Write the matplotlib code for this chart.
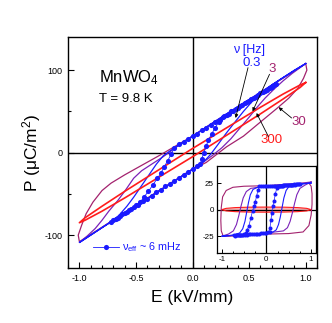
import matplotlib
matplotlib.use('Agg')
import matplotlib.pyplot as plt
from matplotlib.ticker import MultipleLocator, FixedLocator, FixedFormatter

plt.rcParams['font.family'] = ['Liberation Sans', 'DejaVu Sans']
plt.rcParams['mathtext.fontset'] = 'custom'
plt.rcParams['mathtext.rm'] = 'Liberation Sans'
plt.rcParams['mathtext.it'] = 'Liberation Sans:italic'
plt.rcParams['mathtext.default'] = 'regular'
plt.rcParams['axes.unicode_minus'] = False

BLUE = '#1a1aff'
VIOLET = '#7b22b8'
MAROON = '#a3226e'
RED = '#ff1c1c'

# ---- main panel: P(E) loops, E in kV/mm, P in uC/m^2 ----
E_03 = [1.0, 0.8, 0.6, 0.4, 0.2, 0.0, -0.1, -0.2, -0.26, -0.32, -0.38, -0.45, -0.52, -0.58, -0.65,
        -0.72, -0.8, -0.9, -1.0, -0.8, -0.6, -0.4, -0.2, 0.0, 0.1, 0.16, 0.22, 0.3, 0.38, 0.45,
        0.52, 0.6, 0.7, 0.8, 0.9, 1.0]
P_03 = [108, 91, 73, 56, 38, 20, 11, 2, -4, -14, -26, -40, -54, -65, -76,
        -84, -91, -100, -109, -91, -73, -56, -38, -20, -11, -2, 9, 24, 38, 50,
        61, 71, 82, 91, 100, 108]

E_3 = [1.0, 0.6, 0.2, 0.0, -0.1, -0.18, -0.26, -0.35, -0.45, -0.52, -0.59, -0.66, -0.74, -0.8,
       -0.86, -0.93, -1.0, -0.6, -0.2, 0.0, 0.1, 0.18, 0.26, 0.34, 0.42, 0.5, 0.57, 0.64, 0.72,
       0.8, 0.88, 0.95, 1.0]
P_3 = [108, 73, 38, 20, 11, 3, -5, -13, -22, -31, -45, -58, -71, -82,
       -92, -101, -109, -73, -38, -20, -11, -3, 6, 17, 30, 43, 55, 66, 77,
       87, 96, 103, 108]

E_30 = [1.0, 0.75, 0.5, 0.25, 0.0, -0.15, -0.3, -0.47, -0.6, -0.72, -0.8, -0.88, -0.94, -0.98,
        -1.01, -1.0, -0.75, -0.5, -0.25, 0.0, 0.12, 0.3, 0.45, 0.59, 0.74, 0.85, 0.93, 0.98,
        1.01, 1.0]
P_30 = [108, 86, 64, 42, 20, 8, -4, -17, -27, -37, -46, -60, -74, -88,
        -100, -108, -86, -64, -42, -20, -12, 7, 20, 36, 53, 66, 78, 90,
        100, 108]

E_300 = [1.0, 0.95, 0.8, 0.6, 0.3, 0.0, -0.3, -0.6, -0.8, -0.95, -1.0,
         -0.95, -0.8, -0.6, -0.3, 0.0, 0.3, 0.6, 0.8, 0.95, 1.0]
P_300 = [85, 82, 71, 55, 30, 5, -21, -47, -65, -79, -85,
         -82, -71, -55, -30, -5, 21, 47, 65, 79, 85]

# quasi-static points (nu_eff ~ 6 mHz), in measuring order
E_qs = [-0.72, -0.68, -0.64, -0.60, -0.56, -0.52, -0.48, -0.44, -0.40, -0.36, -0.32, -0.28,
        -0.24, -0.20, -0.16, -0.12, -0.08, -0.04, 0.0, 0.04, 0.07,
        0.08, 0.10, 0.12, 0.14, 0.17, 0.20, 0.23, 0.27,
        0.30, 0.34, 0.38, 0.42, 0.46, 0.50, 0.54, 0.58, 0.62, 0.66, 0.70, 0.74,
        0.72, 0.68, 0.64, 0.60, 0.56, 0.52, 0.48, 0.44, 0.40, 0.36, 0.32, 0.28, 0.24, 0.20,
        0.16, 0.12, 0.08, 0.04, 0.0, -0.04, -0.08, -0.12, -0.16,
        -0.19, -0.22, -0.25, -0.28, -0.31, -0.35, -0.39, -0.43, -0.46,
        -0.50, -0.54, -0.58, -0.62, -0.66, -0.70]
P_qs = [-84, -80, -77, -73, -70, -66, -63, -59, -56, -52, -48, -45,
        -41, -38, -34, -31, -27, -24, -20, -16, -14,
        -8, 0, 8, 15, 23, 30, 37, 43,
        46, 50, 53, 56, 60, 63, 66, 70, 73, 76, 80, 83,
        82, 78, 75, 72, 68, 65, 61, 58, 54, 51, 47, 44, 40, 37,
        34, 30, 27, 23, 20, 16, 13, 10, 6,
        -2, -10, -17, -25, -31, -39, -47, -54, -60,
        -64, -68, -72, -75, -79, -82]

# ---- inset: loops after background subtraction ----
E_03i = [1.0, 0.7, 0.3, 0.0, -0.2, -0.3, -0.36, -0.4, -0.44, -0.48, -0.53, -0.6, -0.75, -1.0,
         -0.7, -0.3, 0.0, 0.15, 0.22, 0.27, 0.31, 0.35, 0.39, 0.44, 0.5, 0.65, 1.0]
P_03i = [25, 24, 23, 22, 21, 19, 14, 7, -2, -11, -18, -22, -24, -25,
         -24, -23, -22, -21, -19, -14, -7, 2, 11, 18, 21.5, 23.5, 25]

E_3i = [1.0, 0.6, 0.0, -0.35, -0.45, -0.52, -0.57, -0.62, -0.67, -0.74, -0.85, -1.0,
        -0.6, 0.0, 0.38, 0.47, 0.53, 0.58, 0.63, 0.68, 0.75, 0.86, 1.0]
P_3i = [26, 24, 22, 20, 17, 11, 3, -6, -14, -20, -23, -25,
        -24, -22, -20, -17, -11, -3, 6, 14, 20, 23, 26]

E_30i = [0.95, 0.5, 0.0, -0.5, -0.75, -0.9, -0.98, -1.01, -1.02, -1.01, -0.97, -0.85,
         -0.5, 0.0, 0.5, 0.82, 0.95, 1.0, 1.02, 1.02, 1.0, 0.95]
P_30i = [25, 24, 22.5, 22, 21, 18, 12, 2, -10, -20, -24.5, -25,
         -24, -23, -22.5, -21, -15, -5, 5, 15, 22, 25]

E_300i = [1.0, 0.9, 0.7, 0.4, 0.0, -0.4, -0.7, -0.9, -1.0, -0.9, -0.7, -0.4, 0.0, 0.4, 0.7, 0.9, 1.0]
P_300i = [0, 1.2, 1.9, 2.3, 2.4, 2.3, 1.9, 1.2, 0, -1.2, -1.9, -2.3, -2.4, -2.3, -1.9, -1.2, 0]

P_qsi = [-24, -24, -24, -24, -24, -23.5, -23.5, -23.5, -23, -23, -23, -23,
         -22.5, -22.5, -22.5, -22, -22, -22, -22, -21.5, -21.5,
         -17, -10, -3, 3, 8, 15, 20, 22,
         22.5, 22.5, 23, 23, 23, 23.5, 23.5, 23.5, 24, 24, 24, 24,
         24, 24, 23.5, 23.5, 23.5, 23, 23, 23, 23, 22.5, 22.5, 22.5, 22.5, 22.5,
         22, 22, 22, 22, 22, 22, 22, 22, 22,
         18, 13, 7, 3, -1, -8, -15, -19, -22,
         -23, -23.5, -23.5, -24, -24, -24.5]

fig = plt.figure(figsize=(3.32, 3.23), dpi=100)
ax = fig.add_axes([0.205, 0.170, 0.750, 0.715])
ax.axhline(0, color='k', lw=1)
ax.axvline(0, color='k', lw=1)

ax.plot(E_30, P_30, color=MAROON, lw=0.9)
ax.plot(E_3, P_3, color=VIOLET, lw=0.9)
ax.plot(E_03, P_03, color=BLUE, lw=0.9)
ax.plot(E_300, P_300, color=RED, lw=1.2)
ax.plot(E_qs, P_qs, color=BLUE, lw=0.6, marker='o', ms=3.7, mec='none',
        label=r'$\nu_{eff}$ ~ 6 mHz')

ax.set_xlim(-1.1, 1.1)
ax.set_ylim(-140, 140)
ax.xaxis.set_major_locator(MultipleLocator(0.5))
ax.xaxis.set_minor_locator(MultipleLocator(0.1))
ax.xaxis.set_major_formatter(plt.FormatStrFormatter('%.1f'))
ax.yaxis.set_major_locator(MultipleLocator(100))
ax.yaxis.set_minor_locator(MultipleLocator(50))
ax.tick_params(which='both', direction='in', labelsize=6.5, width=0.8, pad=4)
ax.tick_params(which='major', length=4)
ax.tick_params(which='minor', length=2.5)
for s in ax.spines.values():
    s.set_linewidth(1)
ax.set_xlabel('E (kV/mm)', fontsize=12.5, labelpad=5)
ax.set_ylabel('P (μC/m$^2$)', fontsize=12.5, labelpad=1)

ax.text(-0.825, 85, 'MnWO$_4$', fontsize=12, va='baseline')
ax.text(-0.825, 61, 'T = 9.8 K', fontsize=9.5, va='baseline')

ax.text(0.50, 125, 'ν [Hz]', color=BLUE, fontsize=9, ha='center', va='center')
ax.text(0.52, 109, '0.3', color=BLUE, fontsize=9.5, ha='center', va='center')
ax.text(0.70, 101, '3', color=MAROON, fontsize=9.5, ha='center', va='center')
ax.text(0.935, 37, '30', color=MAROON, fontsize=9.5, ha='center', va='center')
ax.text(0.70, 15.5, '300', color=RED, fontsize=9.5, ha='center', va='center')
arr = dict(arrowstyle='-|>', lw=0.6, color='k', mutation_scale=5, shrinkA=0, shrinkB=0)
ax.annotate('', xy=(0.38, 42), xytext=(0.49, 103), arrowprops=arr)
ax.annotate('', xy=(0.53, 50), xytext=(0.68, 95), arrowprops=arr)
ax.annotate('', xy=(0.76, 55), xytext=(0.875, 42), arrowprops=arr)
ax.annotate('', xy=(0.565, 48), xytext=(0.67, 19.5), arrowprops=arr)

ax.legend(loc='lower left', bbox_to_anchor=(0.10, 0.06), frameon=False, fontsize=7.8,
          handlelength=2.4, handletextpad=0.3, borderpad=0, borderaxespad=0,
          labelcolor=BLUE)

# inset
ax2 = fig.add_axes([0.653, 0.216, 0.299, 0.270])
ax2.axhline(0, color='k', lw=0.9)
ax2.axvline(0, color='k', lw=0.9)
ax2.fill(E_300i, P_300i, color='#f7b5b5', lw=0)
ax2.plot(E_300i, P_300i, color=RED, lw=0.8)
ax2.plot(E_30i, P_30i, color=MAROON, lw=0.8)
ax2.plot(E_3i, P_3i, color=VIOLET, lw=0.8)
ax2.plot(E_03i, P_03i, color=BLUE, lw=0.8)
ax2.plot(E_qs, P_qsi, color=BLUE, lw=0.5, marker='o', ms=2.9, mec='none')
ax2.set_xlim(-1.11, 1.11)
ax2.set_ylim(-41, 41)
ax2.xaxis.set_major_locator(FixedLocator([-1, 0, 1]))
ax2.xaxis.set_major_formatter(FixedFormatter(['-1', '0', '1']))
ax2.xaxis.set_minor_locator(MultipleLocator(0.25))
ax2.yaxis.set_major_locator(FixedLocator([-25, 0, 25]))
ax2.yaxis.set_major_formatter(FixedFormatter(['-25', '0', '25']))
ax2.tick_params(which='both', direction='in', labelsize=5.8, width=0.7, pad=2)
ax2.tick_params(which='major', length=3)
ax2.tick_params(which='minor', length=1.8)
for s in ax2.spines.values():
    s.set_linewidth(0.9)

fig.savefig('out.png', dpi=100)
